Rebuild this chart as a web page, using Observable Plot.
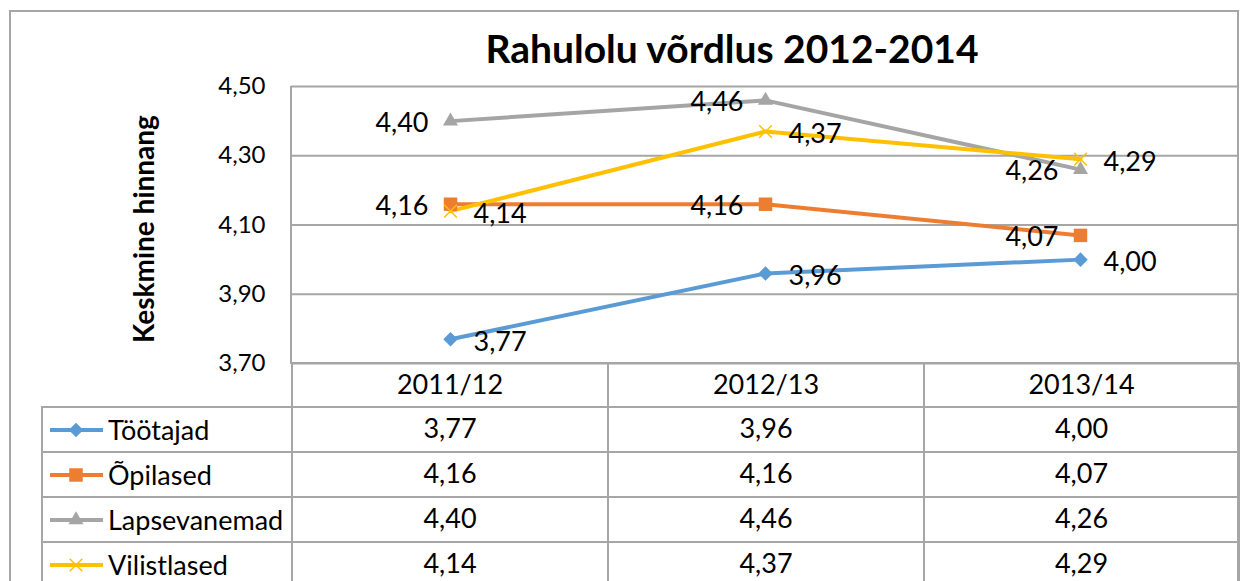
<!DOCTYPE html>
<html><head><meta charset="utf-8">
<script src="https://cdn.jsdelivr.net/npm/d3@7"></script>
<script src="https://cdn.jsdelivr.net/npm/@observablehq/plot@0.6"></script>
<style>
body{margin:0;background:#fff;width:1243px;height:581px;overflow:hidden;position:relative;font-family:Lato,"Open Sans",sans-serif;color:#000}
#frame{position:absolute;left:9px;top:10px;width:1230px;height:620px;border:2px solid #a6a6a6;box-sizing:border-box}
#title{position:absolute;left:332px;width:800px;top:23px;text-align:center;font-weight:bold;font-size:39px;line-height:50px}
#chart{position:absolute;left:0;top:70px}
#yline{position:absolute;left:290px;top:86px;height:278px;border-left:2px solid #a6a6a6}
table{position:absolute;left:41px;top:362px;border-collapse:collapse;table-layout:fixed;font-size:27px;width:1197px}
td,th{border:2px solid #a6a6a6;padding:0 0 3px 0;text-align:center;font-weight:normal;height:39px;line-height:30px;white-space:nowrap}
th.blank{border-top:none;border-left:none}
td.lab{text-align:left}
td.lab svg{vertical-align:middle;margin-left:5px;margin-right:0}
td.lab span{vertical-align:middle}
</style>
</head><body>
<div id="frame"></div>
<div id="title">Rahulolu võrdlus 2012-2014</div>
<div id="chart"></div>
<div id="yline"></div>
<table id="tbl"></table>
<script>
const categories = ["2011/12", "2012/13", "2013/14"];
const series = ["Töötajad", "Õpilased", "Lapsevanemad", "Vilistlased"];
const tootajad = [3.77, 3.96, 4.00];
const opilased = [4.16, 4.16, 4.07];
const lapsevanemad = [4.40, 4.46, 4.26];
const vilistlased = [4.14, 4.37, 4.29];
const yTicks = [3.7, 3.9, 4.1, 4.3, 4.5];
const yTitle = "Keskmine hinnang";

// styling
const colors = ["#5B9BD5", "#ED7D31", "#A5A5A5", "#FFC000"];
const markerKind = ["diamond", "square", "triangle", "times"];
const markerR = [5.8, 7.6, 5.6, 5.8];
const labelSide = ["right", "left", "left", "right"];
const gridColor = "#a6a6a6";

const values = [tootajad, opilased, lapsevanemad, vilistlased];
const fmt = v => d3.format(".2f")(v).replace(".", ",");

const rows = [];
series.forEach((s, i) => categories.forEach((c, j) => rows.push({series: s, cat: c, value: values[i][j], kind: markerKind[i], side: labelSide[i]})));

const chart = Plot.plot({
  width: 1243,
  height: 298,
  marginTop: 16,
  marginBottom: 5,
  marginLeft: 291,
  marginRight: 5,
  style: {fontFamily: "Lato, 'Open Sans', sans-serif", fontSize: "24px", color: "#000", background: "transparent", overflow: "visible"},
  x: {type: "point", domain: categories, padding: 0.5, axis: null},
  y: {domain: [3.7, 4.5], ticks: yTicks, tickSize: 0, tickPadding: 26, tickFormat: fmt, label: null},
  color: {domain: series, range: colors},
  marks: [
    Plot.ruleY(yTicks, {stroke: gridColor, strokeWidth: 2}),
    Plot.text([yTitle], {text: d => d, frameAnchor: "left", textAnchor: "middle", rotate: -90, dx: -146, dy: 4, fontWeight: "bold", fontSize: 28, fill: "#000"}),
    Plot.line(rows, {x: "cat", y: "value", z: "series", stroke: "series", strokeWidth: 4, strokeLinejoin: "round", strokeLinecap: "round"}),
    Plot.dot(rows.filter(d => d.kind === "diamond"), {x: "cat", y: "value", symbol: "square", r: markerR[0], rotate: 45, fill: "series", stroke: "none"}),
    Plot.dot(rows.filter(d => d.kind === "square"), {x: "cat", y: "value", symbol: "square", r: markerR[1], fill: "series", stroke: "none"}),
    Plot.dot(rows.filter(d => d.kind === "triangle"), {x: "cat", y: "value", symbol: "triangle", r: markerR[2], fill: "series", stroke: "none"}),
    Plot.dot(rows.filter(d => d.kind === "times"), {x: "cat", y: "value", symbol: "times", r: markerR[3], stroke: "series", strokeWidth: 1.5, fill: "none"}),
    Plot.text(rows.filter(d => d.side === "left"), {x: "cat", y: "value", text: d => fmt(d.value), textAnchor: "end", dx: -22, dy: 2, fontSize: 27, fill: "#000"}),
    Plot.text(rows.filter(d => d.side === "right"), {x: "cat", y: "value", text: d => fmt(d.value), textAnchor: "start", dx: 23, dy: 3, fontSize: 27, fill: "#000"})
  ]
});
document.getElementById("chart").appendChild(chart);

// data table with legend keys
const tbl = d3.select("#tbl");
const cg = tbl.append("colgroup");
[250, 316, 316, 315].forEach(w => cg.append("col").style("width", w + "px"));
const hr = tbl.append("tr");
hr.append("th").attr("class", "blank");
categories.forEach(c => hr.append("th").text(c));
series.forEach((s, i) => {
  const tr = tbl.append("tr");
  const td = tr.append("td").attr("class", "lab");
  const svg = td.append("svg").attr("width", 56).attr("height", 20);
  svg.append("line").attr("x1", 2).attr("x2", 55).attr("y1", 10).attr("y2", 10).attr("stroke", colors[i]).attr("stroke-width", 4);
  const k = markerKind[i];
  const type = k === "diamond" || k === "square" ? d3.symbolSquare : k === "triangle" ? d3.symbolTriangle : d3.symbolTimes;
  const r = markerR[i];
  const p = svg.append("path").attr("d", d3.symbol(type, Math.PI * r * r)())
    .attr("transform", `translate(28,10)${k === "diamond" ? " rotate(45)" : ""}`);
  if (k === "times") p.attr("stroke", colors[i]).attr("stroke-width", 1.5).attr("fill", "none");
  else p.attr("fill", colors[i]);
  td.append("span").text(s).style("margin-left", "4px");
  values[i].forEach(v => tr.append("td").text(fmt(v)));
});
tbl.selectAll("tr").filter((d, i) => i > 0).selectAll("td").style("height", "40px");
</script>
</body></html>
